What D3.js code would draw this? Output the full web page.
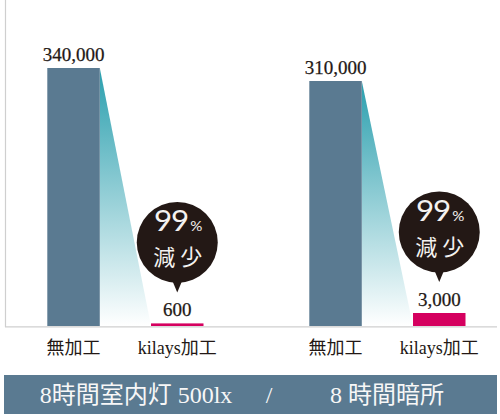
<!DOCTYPE html>
<html>
<head>
<meta charset="utf-8">
<script src="https://cdn.jsdelivr.net/npm/d3@7"></script>
<style>
  body { margin: 0; background: #fff; }
  svg { display: block; }
</style>
</head>
<body>
<div id="chart"></div>
<script>
// data
var groups = ["8時間室内灯 500lx", "8 時間暗所"];
var categories = ["無加工", "kilays加工"];
var untreated = [340000, 310000];
var treated = [600, 3000];
var reduction = [99, 99];
var reductionWord = "減少";

var w = 500, h = 420;
var baseY = 326;

var svg = d3.select("#chart")
    .append("svg")
    .attr("width", w)
    .attr("height", h);

var defs = svg.append("defs");

// rows: one per bar
var data = [];
groups.forEach(function (g, i) {
    data.push({ group: g, cat: categories[0], value: untreated[i], gi: i });
    data.push({ group: g, cat: categories[1], value: treated[i], gi: i });
});

var x0 = d3.scalePoint()
    .domain(groups)
    .range([47.3, 309.3]);

var x1 = d3.scaleBand()
    .domain(categories)
    .range([0, 156.2])
    .paddingInner(0.494)
    .paddingOuter(0);

// piecewise so the tiny bars still show (as in the original artwork)
var yScale = d3.scaleLinear()
    .domain([0, 3000, 310000, 340000])
    .range([baseY, 313, 81, 68]);

var fmt = d3.format(",");
var serif = "'Liberation Serif', 'DejaVu Serif', 'Noto Sans CJK JP', serif";

// axis lines
svg.append("line")
    .attr("x1", 5.5).attr("x2", 5.5)
    .attr("y1", 0).attr("y2", 327)
    .attr("stroke", "#cfcfcf").attr("stroke-width", 1.2);

// gradient wedges from the tall bar down to the small bar
groups.forEach(function (g, i) {
    var top = yScale(untreated[i]);
    var grad = defs.append("linearGradient")
        .attr("id", "fade" + i)
        .attr("gradientUnits", "userSpaceOnUse")
        .attr("x1", 0).attr("x2", 0)
        .attr("y1", top).attr("y2", baseY);
    grad.append("stop").attr("offset", 0).attr("stop-color", "#2a9fae");
    grad.append("stop").attr("offset", 1).attr("stop-color", "#ffffff");

    var xa = x0(g) + x1(categories[0]) + x1.bandwidth();
    var xb = x0(g) + x1(categories[1]);
    svg.append("path")
        .attr("d", "M" + xa + "," + top + "L" + xb + "," + baseY + "L" + xa + "," + baseY + "Z")
        .attr("fill", "url(#fade" + i + ")");
});

// bars
svg.selectAll("rect.bar")
    .data(data)
    .enter()
    .append("rect")
    .attr("class", "bar")
    .attr("x", function (d) { return x0(d.group) + x1(d.cat); })
    .attr("y", function (d) { return yScale(d.value); })
    .attr("width", x1.bandwidth())
    .attr("height", function (d) { return baseY - yScale(d.value); })
    .attr("fill", function (d) {
        return d.cat === categories[0] ? "#5a7a91" : "#d5005f";
    });

svg.append("line")
    .attr("x1", 5).attr("x2", 497)
    .attr("y1", 326.8).attr("y2", 326.8)
    .attr("stroke", "#cfcfcf").attr("stroke-width", 1.2);

// value labels
svg.selectAll("text.val")
    .data(data)
    .enter()
    .append("text")
    .attr("class", "val")
    .attr("x", function (d) { return x0(d.group) + x1(d.cat) + x1.bandwidth() / 2; })
    .attr("y", function (d) { return yScale(d.value) - 7; })
    .attr("text-anchor", "middle")
    .attr("font-family", serif)
    .attr("font-size", 19)
    .attr("fill", "#231815")
    .attr("stroke", "#231815")
    .attr("stroke-width", 0.25)
    .text(function (d) { return fmt(d.value); });

// category labels
svg.selectAll("text.cat")
    .data(data)
    .enter()
    .append("text")
    .attr("class", "cat")
    .attr("x", function (d) { return x0(d.group) + x1(d.cat) + x1.bandwidth() / 2; })
    .attr("y", 354)
    .attr("text-anchor", "middle")
    .attr("font-family", serif)
    .attr("font-size", 18)
    .attr("fill", "#231815")
    .text(function (d) { return d.cat; });

// speech bubbles over the treated bar
var small = data.filter(function (d) { return d.cat === categories[1]; });
var bubble = svg.selectAll("g.bubble")
    .data(small)
    .enter()
    .append("g")
    .attr("class", "bubble")
    .attr("transform", function (d) {
        var cx = x0(d.group) + x1(d.cat) + x1.bandwidth() / 2;
        var cy = yScale(d.value) - 7 - 74;
        return "translate(" + cx + "," + cy + ")";
    });

bubble.append("circle")
    .attr("r", 40.5)
    .attr("fill", "#231815");

bubble.append("path")
    .attr("d", "M-5,38 L5,38 L0,50 Z")
    .attr("fill", "#231815");

var pct = bubble.append("text")
    .attr("transform", "translate(1,-11) scale(1.08,1)")
    .attr("text-anchor", "middle")
    .attr("font-family", "Lato, 'Noto Sans', sans-serif")
    .attr("font-weight", 400)
    .attr("fill", "#f4f2f0");
pct.append("tspan")
    .attr("font-size", 29)
    .attr("letter-spacing", -1)
    .text(function (d) { return reduction[d.gi]; });
pct.append("tspan")
    .attr("font-size", 14)
    .attr("dx", 2)
    .text("%");

bubble.append("text")
    .attr("x", 3)
    .attr("y", 23)
    .attr("text-anchor", "middle")
    .attr("font-family", "'Noto Sans CJK JP', sans-serif")
    .attr("font-weight", 400)
    .attr("font-size", 22)
    .attr("letter-spacing", 5)
    .attr("fill", "#f4f2f0")
    .text(reductionWord);

// bottom banner
svg.append("rect")
    .attr("x", 4)
    .attr("y", 375)
    .attr("width", 493)
    .attr("height", 39)
    .attr("fill", "#5a7a91");

var bannerX = [136, 387];
svg.selectAll("text.grp")
    .data(groups)
    .enter()
    .append("text")
    .attr("class", "grp")
    .attr("x", function (d, i) { return bannerX[i]; })
    .attr("y", 403)
    .attr("text-anchor", "middle")
    .attr("font-family", serif)
    .attr("font-size", 24)
    .attr("fill", "#f7f7f7")
    .text(function (d) { return d; });

svg.append("text")
    .attr("x", 269)
    .attr("y", 403)
    .attr("text-anchor", "middle")
    .attr("font-family", serif)
    .attr("font-size", 24)
    .attr("fill", "#f7f7f7")
    .text("/");
</script>
</body>
</html>
